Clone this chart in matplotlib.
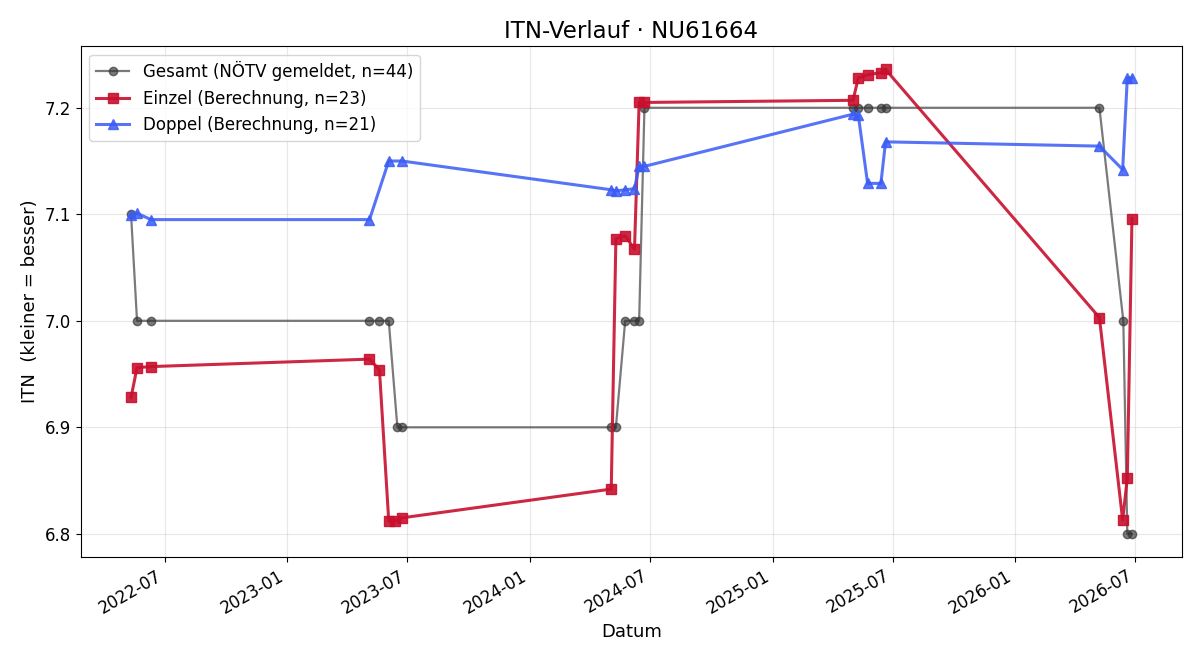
import pandas as pd
import matplotlib.pyplot as plt

# Daten
gesamt_dates = ['2022-05-11', '2022-05-20', '2022-06-10',
                '2023-05-05', '2023-05-20', '2023-06-03', '2023-06-16', '2023-06-23',
                '2024-05-03', '2024-05-10', '2024-05-24', '2024-06-07', '2024-06-14', '2024-06-22',
                '2025-05-02', '2025-05-10', '2025-05-24', '2025-06-13', '2025-06-20',
                '2026-05-08', '2026-06-13', '2026-06-19', '2026-06-26']
gesamt_itn = [7.1, 7.0, 7.0,
              7.0, 7.0, 7.0, 6.9, 6.9,
              6.9, 6.9, 7.0, 7.0, 7.0, 7.2,
              7.2, 7.2, 7.2, 7.2, 7.2,
              7.2, 7.0, 6.8, 6.8]

einzel_dates = ['2022-05-11', '2022-05-20', '2022-06-10',
                '2023-05-05', '2023-05-20', '2023-06-03', '2023-06-12', '2023-06-23',
                '2024-05-03', '2024-05-10', '2024-05-24', '2024-06-07', '2024-06-14', '2024-06-22',
                '2025-05-02', '2025-05-10', '2025-05-24', '2025-06-13', '2025-06-20',
                '2026-05-08', '2026-06-12', '2026-06-19', '2026-06-26']
einzel_itn = [6.928, 6.956, 6.957,
              6.964, 6.954, 6.812, 6.812, 6.815,
              6.842, 7.077, 7.080, 7.067, 7.205, 7.205,
              7.207, 7.228, 7.231, 7.233, 7.236,
              7.003, 6.813, 6.852, 7.096]

doppel_dates = ['2022-05-11', '2022-05-20', '2022-06-10',
                '2023-05-05', '2023-06-03', '2023-06-23',
                '2024-05-03', '2024-05-10', '2024-05-24', '2024-06-07', '2024-06-14', '2024-06-22',
                '2025-05-02', '2025-05-10', '2025-05-24', '2025-06-13', '2025-06-20',
                '2026-05-08', '2026-06-12', '2026-06-19', '2026-06-26']
doppel_itn = [7.099, 7.101, 7.095,
              7.095, 7.150, 7.150,
              7.123, 7.122, 7.123, 7.124, 7.145, 7.145,
              7.194, 7.193, 7.129, 7.129, 7.168,
              7.164, 7.142, 7.228, 7.228]

fig, ax = plt.subplots(figsize=(12, 6.6), dpi=100)

ax.plot(pd.to_datetime(gesamt_dates), gesamt_itn, marker='o', markersize=6, linewidth=1.6,
        color='#333333', alpha=0.65, label='Gesamt (NÖTV gemeldet, n=44)')
ax.plot(pd.to_datetime(einzel_dates), einzel_itn, marker='s', markersize=7, linewidth=2.2,
        color='#c8102e', alpha=0.9, label='Einzel (Berechnung, n=23)')
ax.plot(pd.to_datetime(doppel_dates), doppel_itn, marker='^', markersize=7, linewidth=2.2,
        color='#3a5cf5', alpha=0.85, label='Doppel (Berechnung, n=21)')

ax.set_title('ITN-Verlauf · NU61664', fontsize=16.5)
ax.set_xlabel('Datum', fontsize=13)
ax.set_ylabel('ITN  (kleiner = besser)', fontsize=13)
ax.tick_params(labelsize=12)
ax.grid(True, alpha=0.3)
ax.legend(loc='upper left', fontsize=12)
fig.autofmt_xdate()

plt.subplots_adjust(left=0.0675, right=0.985, top=0.930, bottom=0.156)
plt.savefig('out.png')
